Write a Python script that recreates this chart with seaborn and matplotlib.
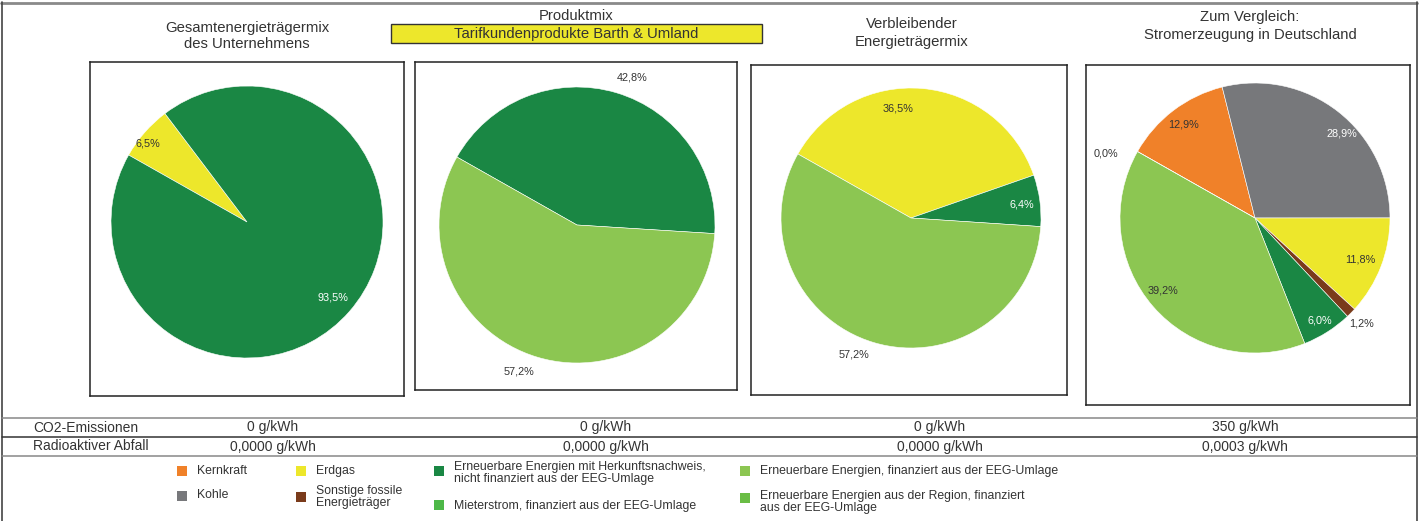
import matplotlib
matplotlib.use("Agg")
import matplotlib.pyplot as plt
import seaborn as sns
import numpy as np
from matplotlib.patches import Rectangle

# Data
categories = ["Kernkraft", "Kohle", "Erdgas", "Sonstige fossile\nEnergieträger",
              "Erneuerbare Energien mit Herkunftsnachweis,\nnicht finanziert aus der EEG-Umlage",
              "Erneuerbare Energien, finanziert aus der EEG-Umlage",
              "Mieterstrom, finanziert aus der EEG-Umlage",
              "Erneuerbare Energien aus der Region, finanziert\naus der EEG-Umlage"]
cat_colors = ["#F08129", "#77787B", "#EDE72B", "#7A3B1B",
              "#1A8744", "#8CC652", "#4DB848", "#6ABD45"]

pie_titles = ["Gesamtenergieträgermix\ndes Unternehmens", "Produktmix",
              "Verbleibender\nEnergieträgermix", "Zum Vergleich:\nStromerzeugung in Deutschland"]
product_name = "Tarifkundenprodukte Barth & Umland"

# shares per pie: (category index, percent)
gesamt_cats = [2, 4]
gesamt_vals = [6.5, 93.5]
produkt_cats = [4, 5]
produkt_vals = [42.8, 57.2]
verbleib_cats = [2, 4, 5]
verbleib_vals = [36.5, 6.4, 57.2]
de_cats = [0, 1, 2, 3, 4, 5, 6]
de_vals = [12.9, 28.9, 11.8, 1.2, 6.0, 39.2, 0.0]

row_labels = ["CO2-Emissionen", "Radioaktiver Abfall"]
co2_values = ["0 g/kWh", "0 g/kWh", "0 g/kWh", "350 g/kWh"]
waste_values = ["0,0000 g/kWh", "0,0000 g/kWh", "0,0000 g/kWh", "0,0003 g/kWh"]

# Layout (pixels of the 1422x521 image)
W, H = 1422, 521
boxes = [(90, 62, 404, 396), (415, 62, 737, 390), (751, 65, 1067, 395), (1086, 65, 1410, 405)]
centers = [(247, 222, 136), (577, 225, 138), (911, 218, 130), (1255, 218, 135)]
label_radius = [[0.93, 0.84], [1.14, 1.14], [0.85, 0.86, 1.14],
                [0.87, 0.9, 0.84, 1.11, 0.9, 0.87, 1.2]]
label_shift = [[3, 0], [-4, -5], [12, -1, -6], [0, -8, 0, 0, 0, -3, 6]]  # degrees
value_x = [273, 606, 940, 1245]
title_x = [247, 576, 912, 1250]

sns.set_theme(style="white")
plt.rcParams["font.family"] = ["Liberation Sans", "DejaVu Sans"]
txt = "#333333"

fig = plt.figure(figsize=(W / 100, H / 100), dpi=100)
bg = fig.add_axes([0, 0, 1, 1])
bg.set_xlim(0, W)
bg.set_ylim(H, 0)
bg.axis("off")

# outer frame
bg.plot([1, W - 5], [2.5, 2.5], color="#8a8a8a", lw=2)
bg.plot([2, 2], [2, H], color="#444444", lw=1.2)
bg.plot([W - 5, W - 5], [2, H], color="#444444", lw=1.2)

pies = [(gesamt_cats, gesamt_vals), (produkt_cats, produkt_vals),
        (verbleib_cats, verbleib_vals), (de_cats, de_vals)]
palette = sns.color_palette(cat_colors)
dark_fill = {1, 4}
start = 150.5

for i, ((cats, vals), (x0, y0, x1, y1), (cx, cy, r)) in enumerate(zip(pies, boxes, centers)):
    ax = fig.add_axes([x0 / W, 1 - y1 / H, (x1 - x0) / W, (y1 - y0) / H])
    cols = [palette[c] for c in cats]
    pc = (cx - x0, y1 - cy)
    ax.pie(vals, colors=cols, startangle=start, counterclock=False, radius=r,
           center=pc, frame=True, wedgeprops=dict(edgecolor="white", linewidth=0.4))
    ax.set_xlim(0, x1 - x0)
    ax.set_ylim(0, y1 - y0)
    ax.set_aspect("auto")
    ax.set_xticks([])
    ax.set_yticks([])
    for s in ax.spines.values():
        s.set_visible(True)
        s.set_color("#222222")
        s.set_linewidth(1.1)
    total = sum(vals)
    cum = np.cumsum(vals)
    for j, (c, v) in enumerate(zip(cats, vals)):
        mid = np.deg2rad(start - 360 * (cum[j] - v / 2) / total + label_shift[i][j])
        f = label_radius[i][j]
        color = "white" if (c in dark_fill and f < 1) else txt
        ax.text(pc[0] + f * r * np.cos(mid), pc[1] + f * r * np.sin(mid),
                f"{v:.1f}%".replace(".", ","), ha="center", va="center",
                fontsize=7.8, color=color)

# titles
tfs = 10.7
bg.text(title_x[0], 36, pie_titles[0], ha="center", va="center", fontsize=tfs,
        color=txt, linespacing=1.2)
bg.text(title_x[1], 16, pie_titles[1], ha="center", va="center", fontsize=tfs, color=txt)
bg.add_patch(Rectangle((391, 24), 371, 19, facecolor="#EDE72B", edgecolor="#333333", lw=1))
bg.text(title_x[1], 34, product_name, ha="center", va="center", fontsize=tfs, color=txt)
bg.text(title_x[2], 33, pie_titles[2], ha="center", va="center", fontsize=tfs,
        color=txt, linespacing=1.35)
bg.text(title_x[3], 26, pie_titles[3], ha="center", va="center", fontsize=tfs,
        color=txt, linespacing=1.3)

# table
for y, c in [(418, "#888888"), (437, "#333333"), (456, "#888888")]:
    bg.plot([2, W - 5], [y, y], color=c, lw=1.1)
for y, lab, vals in [(427.5, row_labels[0], co2_values), (446.5, row_labels[1], waste_values)]:
    bg.text(33, y, lab, ha="left", va="center", fontsize=10, color=txt)
    for x, v in zip(value_x, vals):
        bg.text(x, y, v, ha="center", va="center", fontsize=10, color=txt)

# legend
leg_pos = [(177, 471), (177, 496), (296, 471), (296, 497),
           (434, 471), (740, 471), (434, 505), (740, 498)]
text_y = [471, 495, 471, 497, 473, 471, 506, 502]
for k, (cat, (lx, ly)) in enumerate(zip(categories, leg_pos)):
    bg.add_patch(Rectangle((lx, ly - 5), 10, 10, facecolor=palette[k], edgecolor="none"))
    bg.text(lx + 20, text_y[k], cat, ha="left", va="center", fontsize=8.8,
            color=txt, linespacing=1.0)

fig.savefig("out.png", dpi=100)
